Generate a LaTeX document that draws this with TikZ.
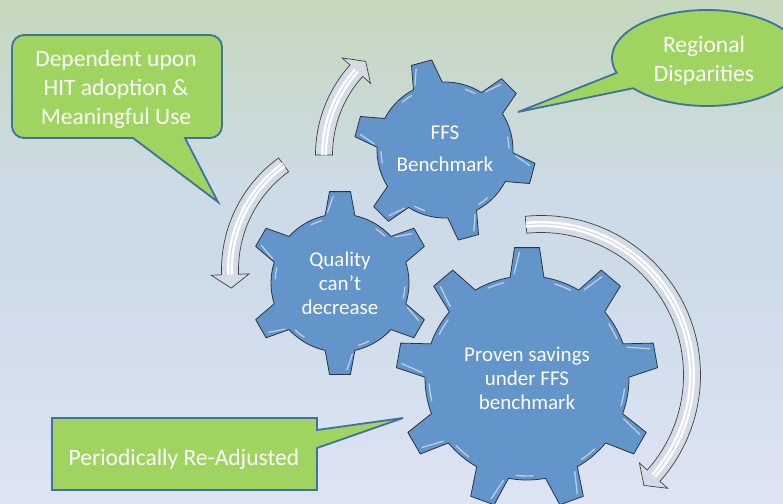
\documentclass[tikz,border=0pt]{standalone}
\usepackage{fontspec}
\setmainfont{Carlito}

\definecolor{gearblue}{RGB}{99,149,202}
\definecolor{gearedge}{RGB}{45,50,60}
\definecolor{calloutgreen}{RGB}{159,212,96}
\definecolor{calloutedge}{RGB}{65,113,156}
\definecolor{arrowgrey}{RGB}{212,219,231}
\definecolor{bgtop}{RGB}{198,216,188}
\definecolor{bgmid}{RGB}{205,219,233}
\definecolor{bgbottom}{RGB}{221,228,243}

\pgfdeclareverticalshading{backdrop}{100bp}{color(0bp)=(bgbottom); color(25bp)=(bgbottom); color(48bp)=(bgmid); color(55bp)=(bgmid); color(75bp)=(bgtop); color(100bp)=(bgtop)}

\tikzset{
  gearbody/.style={fill=gearblue, draw=gearedge, line width=0.8pt, line join=round},
  gearshine/.style={draw=white!55!gearblue, line width=1.3pt, line cap=round},
  bentbody/.style={fill=arrowgrey, draw=black!75, line width=0.7pt},
  bentshine/.style={draw=white, line width=6pt},
  bentgroove/.style={draw=arrowgrey, line width=1.2pt},
  callout/.style={fill=calloutgreen, draw=calloutedge, line width=1.8pt},
  calloutlabel/.style={text=white, font=\fontsize{23.5}{29}\selectfont, align=center},
  gearlabel/.style={text=white, font=\fontsize{21}{24}\selectfont, align=center},
}

% centre x, centre y, teeth, body radius, tip radius, first tooth, half base, half tip
\newcommand{\gear}[8]{%
  \pgfmathsetmacro{\gstep}{360/#3}
  \pgfmathtruncatemacro{\glast}{#3-1}
  \pgfmathsetmacro{\ghb}{deg(#7/#4)}
  \pgfmathsetmacro{\ght}{deg(#8/#5)}
  \begin{scope}[shift={(#1,#2)}]
    \draw[gearbody] ({#6-\ghb}:#4)
      \foreach \k in {0,...,\glast}{
        -- ({#6+\k*\gstep-\ght}:#5) -- ({#6+\k*\gstep+\ght}:#5)
        -- ({#6+\k*\gstep+\ghb}:#4)
        arc[start angle={#6+\k*\gstep+\ghb}, end angle={#6+(\k+1)*\gstep-\ghb}, radius=#4]
      } -- cycle;
    \foreach \k in {0,...,\glast}{
      \draw[gearshine] ({#6+\k*\gstep+\ght-2}:{#5-5}) -- ({#6+\k*\gstep+\ghb-2.5}:{#4+3});
      \draw[gearshine] ({#6+\k*\gstep+\ghb+4}:{#4-4})
        arc[start angle={#6+\k*\gstep+\ghb+4}, end angle={#6+\k*\gstep+\ghb+14}, radius={#4-4}];
    }
  \end{scope}}

% centre x, centre y, radius, tail angle, head angle, tip angle
\newcommand{\bentarrow}[6]{%
  \begin{scope}[shift={(#1,#2)}]
    \draw[bentbody] ({#4}:{#3+8.5}) arc[start angle=#4, end angle=#5, radius={#3+8.5}]
      -- ({#5}:{#3+19}) -- ({#6}:{#3}) -- ({#5}:{#3-19}) -- ({#5}:{#3-8.5})
      arc[start angle=#5, end angle=#4, radius={#3-8.5}] -- cycle;
    \draw[bentshine] ({#4}:{#3}) arc[start angle=#4, end angle=#5, radius=#3];
    \draw[bentgroove] ({#4}:{#3}) arc[start angle=#4, end angle=#5, radius=#3];
  \end{scope}}

\begin{document}
\begin{tikzpicture}[x=1pt,y=1pt]
\shade[shading=backdrop] (0,0) rectangle (783,-503);
\useasboundingbox (0,0) rectangle (783,-503);

% arrows going round the gears
\bentarrow{450}{-155}{126}{180}{138}{132}
\bentarrow{360}{-270}{130}{126}{182}{188}
\bentarrow{541}{-375}{151}{95.7}{-41.8}{-47}

% gears
\gear{340}{-283}{6}{69}{92}{30}{15}{10.5}
\gear{445}{-150}{6}{68}{91}{105}{15}{10.5}
\gear{527}{-378}{9}{102}{131}{10}{17}{12.5}
\node[gearlabel] (ffs) at (445,-149) {FFS\\[8pt]Benchmark};
\node[gearlabel] (quality) at (340,-283) {Quality\\can't\\decrease};
\node[gearlabel] (savings) at (527,-378) {Proven savings\\under FFS\\benchmark};

% callouts
\draw[callout] (133,-138) -- (218,-202) -- (185,-138) -- (210,-138)
  arc[start angle=-90, end angle=0, radius=12] -- (222,-47)
  arc[start angle=0, end angle=90, radius=12] -- (24,-35)
  arc[start angle=90, end angle=180, radius=12] -- (12,-126)
  arc[start angle=180, end angle=270, radius=12] -- cycle;
\node[calloutlabel] (hit) at (116,-89) {Dependent upon\\HIT adoption \&\\Meaningful Use};

\begin{scope}[shift={(707,-58)}]
  \draw[callout] ({95*cos(198)},{48*sin(198)}) -- (-189,-54)
    -- ({95*cos(219)},{48*sin(219)})
    arc[start angle=219, end angle=558, x radius=95, y radius=48] -- cycle;
\end{scope}
\node[calloutlabel] (regional) at (704,-61) {Regional\\Disparities};

\draw[callout] (52,-418) -- (317,-418) -- (317,-430) -- (403,-418) -- (317,-448)
  -- (317,-490) -- (52,-490) -- cycle;
\node[calloutlabel] (readjust) at (184,-459) {Periodically Re-Adjusted};
\end{tikzpicture}
\end{document}
